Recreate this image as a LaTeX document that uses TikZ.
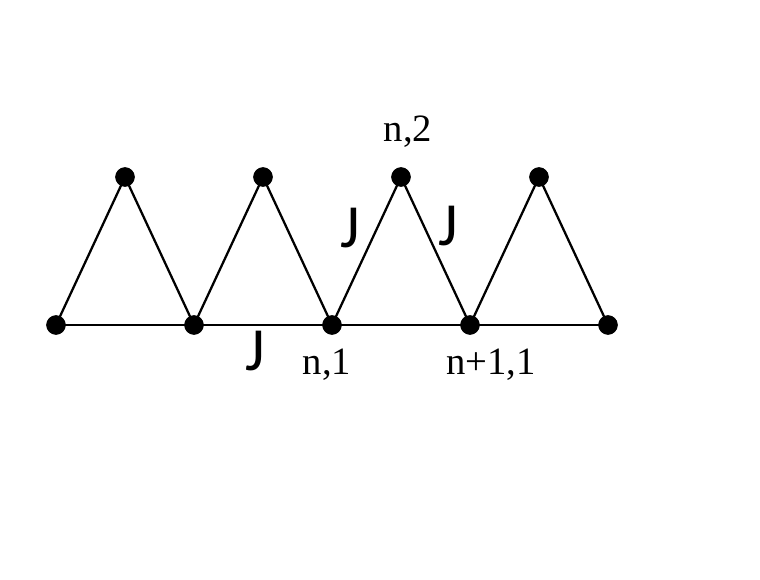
\documentclass[tikz,border=0pt]{standalone}
\usepackage{fontspec}
\setmainfont{Liberation Serif}
\newfontfamily\jfont{Carlito}
\begin{document}
\begin{tikzpicture}[x=0.75pt,y=-0.75pt,
  dot/.style={circle,fill=black,inner sep=0pt,minimum size=14.5pt},
  edge/.style={line width=1.7pt},
  lab/.style={anchor=base,inner sep=0pt,font=\fontsize{29}{34}\selectfont},
  jlab/.style={anchor=base,inner sep=0pt,font=\jfont\fontsize{46}{52}\selectfont}]
\useasboundingbox (0,0) rectangle (760,580);
\foreach \i/\x in {1/56,2/194,3/332,4/470,5/608}{\node[dot] (b\i) at (\x,325) {};}
\foreach \i/\x in {1/125,2/263,3/401,4/539}{\node[dot] (t\i) at (\x,177) {};}
\draw[edge] (b1.center) -- (b2.center) -- (b3.center) -- (b4.center) -- (b5.center);
\draw[edge] (b1.center) -- (t1.center) -- (b2.center) -- (t2.center) -- (b3.center) -- (t3.center) -- (b4.center) -- (t4.center) -- (b5.center);
\foreach \n in {b1,b2,b3,b4,b5,t1,t2,t3,t4}{\node[dot] at (\n) {};}
\node[lab] (l1) at (408,142) {n,2};
\node[lab] (l2) at (327,375) {n,1};
\node[lab] (l3) at (491,375) {n+1,1};
\node[jlab] (j1) at (350,248) {J};
\node[jlab] (j2) at (448,246) {J};
\node[jlab] (j3) at (255,371) {J};
\end{tikzpicture}
\end{document}
